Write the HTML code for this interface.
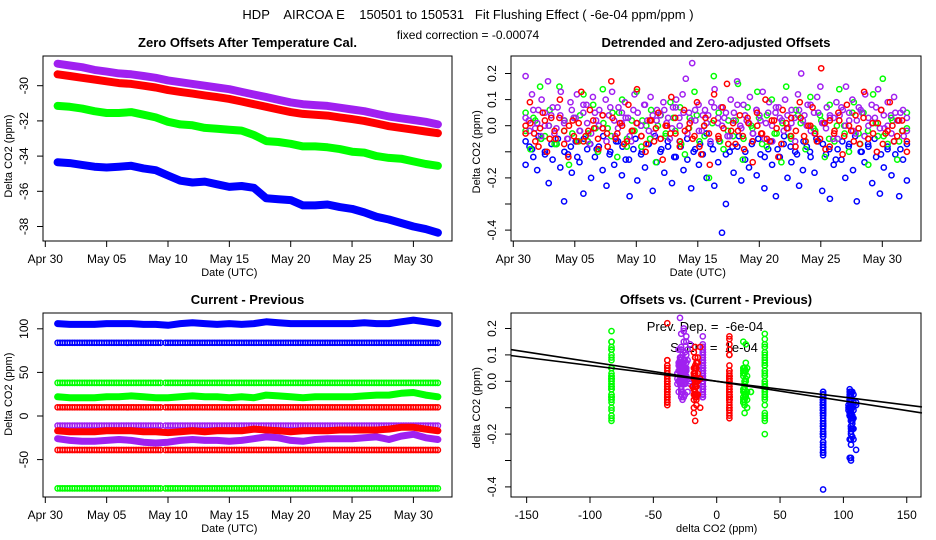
<!DOCTYPE html>
<html><head><meta charset="utf-8"><style>
html,body{margin:0;padding:0;background:#fff}
svg{display:block;font-family:"Liberation Sans",sans-serif}
.pre{white-space:pre}
</style></head><body>
<svg id="chart" width="936" height="540" viewBox="0 0 936 540" xmlns="http://www.w3.org/2000/svg">
<rect x="0" y="0" width="936" height="540" fill="#fff"/>
<text class="pre" xml:space="preserve" x="468" y="19" text-anchor="middle" font-size="13">HDP    AIRCOA E    150501 to 150531   Fit Flushing Effect ( -6e-04 ppm/ppm )</text>
<text x="468" y="39" text-anchor="middle" font-size="12">fixed correction = -0.00074</text>
</svg>
<script>
// ---------- data ----------
const days = [1,2,3,4,5,6,7,8,9,10,11,12,13,14,15,16,17,18,19,20,21,22,23,24,25,26,27,28,29,30,31,32];
const offBlue = [-34.35,-34.4,-34.5,-34.6,-34.65,-34.6,-34.55,-34.7,-34.8,-35.1,-35.4,-35.5,-35.45,-35.6,-35.75,-35.7,-35.8,-36.4,-36.45,-36.5,-36.8,-36.8,-36.75,-36.9,-37.0,-37.2,-37.45,-37.6,-37.8,-38.0,-38.15,-38.35];
const offGreen = [-31.15,-31.2,-31.3,-31.45,-31.55,-31.55,-31.5,-31.65,-31.8,-32.05,-32.2,-32.25,-32.4,-32.45,-32.5,-32.55,-32.8,-33.15,-33.2,-33.3,-33.45,-33.45,-33.5,-33.6,-33.75,-33.8,-34.0,-34.1,-34.15,-34.3,-34.45,-34.55];
const offRed = [-29.35,-29.45,-29.55,-29.65,-29.75,-29.85,-29.9,-30.0,-30.1,-30.25,-30.35,-30.45,-30.55,-30.65,-30.75,-30.9,-31.05,-31.2,-31.35,-31.5,-31.6,-31.65,-31.7,-31.8,-31.9,-32.0,-32.15,-32.3,-32.4,-32.5,-32.6,-32.7];
const offPurple = [-28.75,-28.85,-28.95,-29.1,-29.2,-29.3,-29.35,-29.45,-29.55,-29.7,-29.8,-29.9,-30.0,-30.1,-30.2,-30.35,-30.5,-30.65,-30.8,-30.95,-31.05,-31.1,-31.15,-31.25,-31.35,-31.45,-31.6,-31.75,-31.85,-31.95,-32.05,-32.2];

const cpBlueThick = [106,105,105,105,106,106,106,105,105,104,106,107,106,105,106,105,106,108,107,106,106,106,106,106,106,107,106,106,108,110,108,106];
const cpGreenThick = [22,21,21,21,22,22,23,22,21,21,22,23,22,22,21,22,21,24,23,22,21,22,22,22,22,23,24,24,26,27,24,22];
const cpRedThick = [-17,-18,-18,-18,-17,-17,-17,-18,-18,-19,-18,-17,-18,-17,-17,-17,-15,-16,-17,-18,-17,-17,-17,-16,-16,-16,-16,-15,-13,-13,-15,-17];
const cpPurpleThick = [-26,-28,-29,-29,-28,-27,-28,-30,-31,-30,-28,-27,-28,-28,-29,-28,-26,-24,-25,-28,-29,-27,-26,-26,-26,-25,-24,-27,-23,-21,-25,-27];
const ringLevels = [84,38,10,-11,-39,-83];
const ringColors = ['#0000ff','#00ff00','#ff0000','#a020f0','#ff0000','#00ff00'];

const blueY = [-0.15,-0.08,-0.12,-0.17,-0.05,-0.1,-0.22,-0.13,-0.07,-0.16,-0.29,-0.11,-0.18,-0.06,-0.14,-0.26,-0.09,-0.2,-0.12,-0.08,-0.17,-0.23,-0.1,-0.15,-0.06,-0.19,-0.13,-0.27,-0.09,-0.21,-0.11,-0.16,-0.07,-0.25,-0.14,-0.1,-0.18,-0.08,-0.22,-0.12,-0.06,-0.17,-0.13,-0.24,-0.09,-0.15,-0.11,-0.2,-0.07,-0.23,-0.14,-0.41,-0.3,-0.1,-0.18,-0.08,-0.21,-0.13,-0.16,-0.06,-0.19,-0.11,-0.24,-0.09,-0.15,-0.27,-0.12,-0.07,-0.2,-0.14,-0.1,-0.23,-0.17,-0.08,-0.12,-0.18,-0.06,-0.25,-0.11,-0.28,-0.15,-0.09,-0.13,-0.2,-0.07,-0.17,-0.29,-0.1,-0.14,-0.08,-0.22,-0.12,-0.26,-0.16,-0.09,-0.19,-0.11,-0.27,-0.13,-0.21];
const blue2Y = [-0.06,-0.09,-0.04,-0.11,-0.07,-0.05,-0.1,-0.08,-0.12,-0.05,-0.07,-0.09,-0.04,-0.11,-0.06,-0.08,-0.13,-0.05,-0.1,-0.07,-0.04,-0.09,-0.06,-0.12,-0.08,-0.05,-0.1,-0.07,-0.03,-0.09,-0.06,-0.11,-0.08,-0.04,-0.1,-0.07,-0.05,-0.12,-0.06,-0.09,-0.04,-0.08,-0.11,-0.06,-0.1,-0.05,-0.07,-0.09,-0.13,-0.06,-0.08,-0.04,-0.1,-0.07,-0.05,-0.11,-0.08,-0.06,-0.09,-0.07];
const greenY = [0.05,-0.09,0.02,0.15,-0.04,0.06,-0.07,0.15,-0.02,-0.15,0.03,-0.06,0.12,-0.03,0.08,-0.1,0.14,-0.01,0.05,-0.12,0.1,-0.05,0.02,0.13,-0.08,0.0,0.06,-0.14,0.04,-0.04,0.09,-0.02,0.07,-0.11,0.03,0.13,-0.06,0.0,-0.2,0.19,0.05,-0.09,0.02,-0.04,0.16,-0.13,0.07,-0.01,0.13,-0.07,0.04,0.1,-0.03,-0.14,0.15,-0.05,0.06,0.01,-0.09,0.11,-0.02,0.04,-0.12,0.08,-0.06,0.14,0.0,-0.1,0.09,-0.03,0.05,-0.15,0.12,-0.04,0.18,-0.07,0.02,-0.13,-0.02,0.05];
const green2Y = [-0.02,0.03,-0.05,0.0,-0.07,0.02,-0.03,0.04,-0.06,-0.01,0.01,-0.04,0.05,-0.08,-0.02,0.02,-0.05,0.0,-0.03,0.03,-0.07,-0.01,0.04,-0.04,0.01,-0.06,-0.02,0.02,-0.05,0.0,0.03,-0.08,-0.03,0.01,-0.04,0.04,-0.06,-0.01,0.02,-0.05,0.0,-0.03,0.05,-0.07,-0.02,0.01,-0.04,0.03,-0.06,-0.01];
const purpleY = [0.19,0.02,0.12,-0.01,0.06,0.1,0.0,0.17,0.04,-0.03,0.07,0.13,0.01,-0.05,0.09,0.03,0.12,-0.02,0.05,0.08,-0.07,0.11,0.02,0.06,-0.01,0.1,0.04,0.13,-0.04,0.07,0.01,0.09,0.03,-0.06,0.12,0.05,0.0,0.08,0.02,0.11,-0.03,0.06,0.04,0.09,0.01,-0.05,0.07,0.1,0.03,0.12,0.18,0.05,0.24,0.02,0.08,-0.02,0.06,0.04,0.09,0.14,0.01,0.07,0.03,-0.04,0.1,0.05,0.17,0.0,0.08,0.02,0.11,-0.03,0.06,0.04,0.13,0.01,0.09,-0.06,0.05,0.07,0.02,0.1,-0.01,0.06,0.03,0.12,0.2,0.04,0.08,-0.02,0.05,0.11,0.15,0.01,0.07,0.03,-0.05,0.09,0.04,0.06,0.15,0.02,0.1,-0.03,0.07,0.05,0.12,0.0,0.08,0.03,0.14,0.06,-0.01,0.09,0.04,0.11,0.02,0.05,-0.04,0.03];
const purple2Y = [0.03,-0.02,0.06,0.01,-0.04,0.05,0.0,0.07,-0.01,0.04,0.02,-0.05,0.06,0.03,-0.02,0.08,0.01,-0.03,0.05,0.0,0.04,-0.06,0.07,0.02,-0.01,0.05,0.03,-0.04,0.06,0.01,0.0,0.08,-0.02,0.04,0.02,-0.05,0.06,0.03,-0.01,0.07,0.0,0.05,-0.03,0.02,0.06,-0.02,0.04,0.01,-0.06,0.07,0.03,0.0,0.05,-0.04,0.02,0.08,-0.01,0.04,0.01,-0.03,0.06,0.02,-0.05,0.05,0.0,0.07,0.03,-0.02,0.04,0.01,-0.06,0.06,0.02,0.0,0.08,-0.03,0.05,0.01,-0.01,0.04,0.03,-0.05,0.07,0.0,0.05,-0.02,0.02,0.06,-0.04,0.03,0.01,0.07,-0.01,0.04,0.0,-0.03,0.05,0.02,0.06,-0.02];
const redY = [0.0,0.09,-0.03,-0.08,0.05,-0.1,0.03,-0.05,0.1,-0.02,-0.12,0.02,-0.06,0.13,-0.04,0.06,-0.01,-0.09,0.04,-0.03,0.17,-0.05,0.01,-0.07,0.08,-0.02,0.14,-0.04,-0.1,0.02,-0.06,0.05,-0.13,0.0,0.11,-0.03,-0.08,0.06,-0.01,-0.05,0.09,-0.11,0.03,-0.15,0.12,-0.04,0.07,0.16,-0.02,-0.07,0.04,-0.09,0.01,-0.14,0.05,-0.03,0.1,-0.06,0.02,-0.12,0.06,-0.01,0.03,-0.08,0.09,-0.04,0.0,0.07,-0.06,0.22,-0.09,0.02,-0.03,0.05,-0.11,0.08,-0.02,0.04,-0.07,0.13,-0.05,0.01,-0.1,0.06,-0.03,0.09,-0.06,0.02,-0.02,-0.1];
const red2Y = [-0.03,0.01,-0.06,-0.01,0.02,-0.05,-0.02,0.03,-0.07,0.0,-0.04,0.01,-0.06,-0.02,0.02,-0.05,-0.01,-0.08,0.03,-0.03,0.0,-0.06,-0.02,0.01,-0.04,-0.07,0.02,-0.01,-0.05,0.0,-0.03,0.03,-0.06,-0.02,0.01,-0.04,-0.08,0.0,-0.03,0.02,-0.05,-0.01,-0.07,0.01,-0.02,-0.04,0.03,-0.06,0.0,-0.03,-0.05,0.02,-0.01,-0.07,0.01,-0.04,-0.02,0.03,-0.06,0.0,-0.03,-0.05,0.01,-0.08,-0.02,0.02,-0.04,0.0,-0.06,-0.01,0.03,-0.05,-0.03,0.01,-0.07,-0.02,0.0,-0.04,0.02,-0.06];

const dateTickDays = [0,5,10,15,20,25,30];
const dateTickLabels = ['Apr 30','May 05','May 10','May 15','May 20','May 25','May 30'];
const p1Ticks = [-30,-32,-34,-36,-38];
const p2Ticks = [0.2,0.1,0.0,-0.1,-0.2,-0.3,-0.4];
const p2Labels = ['0.2','0.1','0.0','','-0.2','','-0.4'];
const p3Ticks = [100,50,0,-50];
const p4XTicks = [-150,-100,-50,0,50,100,150];
const fitSlopes = [-0.00074,-0.0006];
const fitIntercepts = [0.0,0.0];

// ---------- helpers ----------
const NS='http://www.w3.org/2000/svg';
const svg=document.getElementById('chart');
function mk(tag, attrs, parent){const e=document.createElementNS(NS,tag);for(const k in attrs)e.setAttribute(k,attrs[k]);(parent||svg).appendChild(e);return e;}
function txt(s,attrs,parent){const e=mk('text',attrs,parent);e.textContent=s;return e;}

const p1x=d=>45.3+d*12.27, p1y=v=>85.7+(-30-v)*17.6;
const p2x=d=>513.3+d*12.3, p2y=v=>125.7-v*261;
const p3x=p1x, p3y=v=>416-v*0.872;
const p4x=v=>716.7+v*1.267, p4y=v=>381.3-v*264;

function frame(name,x0,y0,x1,y1,title){
  const g=mk('g',{});
  
  
  const r=mk('rect',{x:x0,y:y0,width:x1-x0,height:y1-y0,fill:'none',stroke:'#000','stroke-width':1},g);
  
  
  const t=txt(title,{x:(x0+x1)/2,y:y0-9,'text-anchor':'middle','font-size':13,'font-weight':'bold'},g);
  
  
  return g;
}
function yAxis(g,x0,ticks,labels,sy,title){
  const ys=ticks.map(sy);
  const l=mk('line',{x1:x0,x2:x0,y1:Math.min(...ys),y2:Math.max(...ys),stroke:'#000'},g);
  
  
  ticks.forEach((t,i)=>{
    const y=sy(t);
    const tk=mk('line',{x1:x0-6,x2:x0,y1:y,y2:y,stroke:'#000'},g);
    
    
    if(labels[i]!==''){
      const lb=txt(labels[i],{x:x0-15,y:y,'text-anchor':'middle','font-size':12,transform:`rotate(-90 ${x0-15} ${y})`},g);
      
      
    }
  });
  const y0=(sy(ticks[0])+sy(ticks[ticks.length-1]))/2;
  const at=txt(title,{x:x0-31,y:y0,'text-anchor':'middle','font-size':11,transform:`rotate(-90 ${x0-31} ${y0})`},g);
  
  
}
function xAxis(g,y0,ticks,labels,sx,title){
  const xs=ticks.map(sx);
  const l=mk('line',{x1:Math.min(...xs),x2:Math.max(...xs),y1:y0,y2:y0,stroke:'#000'},g);
  
  
  ticks.forEach((t,i)=>{
    const x=sx(t);
    const tk=mk('line',{x1:x,x2:x,y1:y0,y2:y0+6,stroke:'#000'},g);
    
    
    const lb=txt(labels[i],{x:x,y:y0+22,'text-anchor':'middle','font-size':12},g);
    
    
  });
  const at=txt(title,{x:(Math.min(...xs)+Math.max(...xs))/2,y:y0+35,'text-anchor':'middle','font-size':11},g);
  
  
}
function circ(g,x,y,col,name){
  const c=mk('circle',{cx:x.toFixed(1),cy:y.toFixed(1),r:2.6,fill:'none',stroke:col,'stroke-width':1.5},g);
  
  
}

// ---------- panel 1 ----------
const g1=frame('zero-offsets-panel',43,56,452,241,'Zero Offsets After Temperature Cal.');
yAxis(g1,43,p1Ticks,p1Ticks.map(String),p1y,'Delta CO2 (ppm)');
xAxis(g1,241,dateTickDays,dateTickLabels,p1x,'Date (UTC)');
[[offBlue,'#0000ff','blue'],[offGreen,'#00ff00','green'],[offRed,'#ff0000','red'],[offPurple,'#a020f0','purple']].forEach(([arr,col,nm])=>{
  const pts=arr.map((v,i)=>p1x(days[i]).toFixed(1)+','+p1y(v).toFixed(1)).join(' ');
  const pl=mk('polyline',{points:pts,fill:'none',stroke:col,'stroke-width':8,'stroke-linejoin':'round','stroke-linecap':'round'},g1);
  
  
});

// ---------- panel 2 ----------
const g2=frame('detrended-offsets-panel',511,56,921,241,'Detrended and Zero-adjusted Offsets');
yAxis(g2,511,p2Ticks,p2Labels,p2y,'Delta CO2 (ppm)');
xAxis(g2,241,dateTickDays,dateTickLabels,p2x,'Date (UTC)');
const scatterSeries=[[[blueY,blue2Y],'#0000ff','blue'],[[greenY,green2Y],'#00ff00','green'],[[purpleY,purple2Y],'#a020f0','purple'],[[redY,red2Y],'#ff0000','red']];
scatterSeries.forEach(([arrs,col,nm])=>{
  arrs.forEach(arr=>{
    arr.forEach((v,i)=>{
      const d=1+i*31/(arr.length-1);
      circ(g2,p2x(d),p2y(v),col,'detrended-point-'+nm);
    });
  });
});

// ---------- panel 3 ----------
const g3=frame('current-minus-previous-panel',43,313,452,497,'Current - Previous');
yAxis(g3,43,p3Ticks,p3Ticks.map(String),p3y,'Delta CO2 (ppm)');
xAxis(g3,497,dateTickDays,dateTickLabels,p3x,'Date (UTC)');
ringLevels.forEach((lv,k)=>{
  for(let d=1;d<=32.01;d+=0.2){
    if(d>9.4&&d<9.7)continue;
    circ(g3,p3x(d),p3y(lv),ringColors[k],'cp-ring-point');
  }
});
const thickSeries=[[cpBlueThick,'#0000ff','blue'],[cpGreenThick,'#00ff00','green'],[cpRedThick,'#ff0000','red'],[cpPurpleThick,'#a020f0','purple']];
thickSeries.forEach(([arr,col,nm])=>{
  const pts=arr.map((v,i)=>p3x(days[i]).toFixed(1)+','+p3y(v).toFixed(1)).join(' ');
  const pl=mk('polyline',{points:pts,fill:'none',stroke:col,'stroke-width':7,'stroke-linejoin':'round','stroke-linecap':'round'},g3);
  
  
});

// ---------- panel 4 ----------
const g4=frame('offsets-vs-cp-panel',511,313,921,497,'Offsets vs. (Current - Previous)');
yAxis(g4,511,p2Ticks,p2Labels,p4y,'delta CO2 (ppm)');
xAxis(g4,497,p4XTicks,p4XTicks.map(String),p4x,'delta CO2 (ppm)');
const t1=txt('Prev. Dep. =  -6e-04',{x:705,y:331,'text-anchor':'middle','font-size':13,'xml:space':'preserve',class:'pre'},g4);


const t2=txt('S. Err. =  1e-04',{x:714,y:352,'text-anchor':'middle','font-size':13,class:'pre'},g4);


const clusterRows={
  blue:[{thick:cpBlueThick},{lv:84}],
  green:[{lv:-83},{thick:cpGreenThick},{lv:38}],
  purple:[{thick:cpPurpleThick},{lv:-11}],
  red:[{lv:-39},{thick:cpRedThick},{lv:10}]
};
scatterSeries.forEach(([arrs,col,nm])=>{
  const rows=clusterRows[nm];
  arrs.forEach(arr=>{
    arr.forEach((v,i)=>{
      const row=rows[i%rows.length];
      const di=Math.min(31,Math.round(i*31/(arr.length-1)));
      const xv=row.thick?row.thick[di]:row.lv;
      circ(g4,p4x(xv),p4y(v),col,'offset-vs-cp-point-'+nm);
    });
  });
});
fitSlopes.forEach((s,k)=>{
  const xa=-162,xb=162;
  const ln=mk('line',{x1:p4x(xa),y1:p4y(fitIntercepts[k]+s*xa),x2:p4x(xb),y2:p4y(fitIntercepts[k]+s*xb),stroke:'#000','stroke-width':1.6},g4);
  
  
});
</script>
</body></html>
